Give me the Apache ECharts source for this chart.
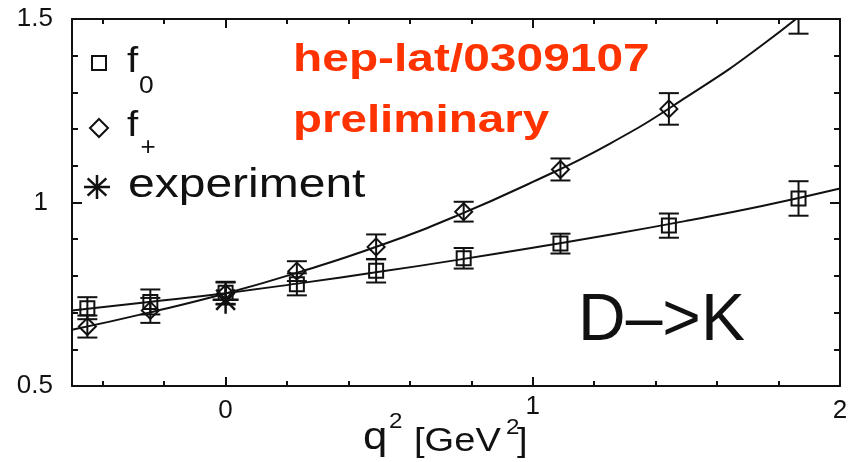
<!DOCTYPE html>
<html>
<head>
<meta charset="utf-8">
<script src="https://cdn.jsdelivr.net/npm/echarts@6/dist/echarts.min.js"></script>
<style>
  html, body { margin: 0; padding: 0; background: #ffffff; }
  #chart { width: 854px; height: 462px; }
</style>
</head>
<body>
<div id="chart"></div>
<script>
// Lattice form factors vs q^2 [GeV^2]
const q2Points    = [-0.45, -0.245, 0, 0.232, 0.49, 0.775, 1.09, 1.443, 1.865];
const f0Values    = [0.712, 0.729, 0.754, 0.777, 0.814, 0.848, 0.888, 0.937, 1.011];
const f0Errors    = [0.030, 0.034, 0.030, 0.030, 0.032, 0.028, 0.027, 0.033, 0.047];
const fPlusValues = [0.662, 0.706, 0.752, 0.813, 0.879, 0.975, 1.090, 1.255, 1.525];
const fPlusErrors = [0.030, 0.034, 0.030, 0.027, 0.034, 0.027, 0.030, 0.043, 0.065];

// Fitted curves sampled along q^2
const fitQ2    = [-0.5, -0.25, 0, 0.25, 0.5, 0.75, 1.0, 1.25, 1.5, 1.75, 2.0];
const fitF0    = [0.706, 0.729, 0.753, 0.781, 0.811, 0.843, 0.877, 0.912, 0.950, 0.991, 1.038];
const fitFPlus = [0.653, 0.700, 0.752, 0.813, 0.882, 0.963, 1.056, 1.160, 1.287, 1.431, 1.600];

// Experimental value at q^2 = 0
const expQ2     = [0];
const expValues = [0.735];

// Axis ticks
const xMajorTicks = [0, 1, 2];
const xMinorTicks = [-0.4, -0.2, 0.2, 0.4, 0.6, 0.8, 1.2, 1.4, 1.6, 1.8];
const yMajorTicks = [0.5, 1, 1.5];
const yMinorTicks = [0.6, 0.7, 0.8, 0.9, 1.1, 1.2, 1.3, 1.4];

const INK = '#111111';
const FONT = '"Liberation Sans", Arial, Helvetica, sans-serif';

const chart = echarts.init(document.getElementById('chart'), null, { renderer: 'canvas' });

function strokeStyle(w) {
  return { stroke: INK, lineWidth: w || 2, fill: 'none' };
}

function starShape(cx, cy, rx, ry) {
  const dx = rx * 0.72, dy = ry * 0.72;
  return [
    { type: 'line', shape: { x1: cx - rx, y1: cy, x2: cx + rx, y2: cy }, style: strokeStyle(2.5) },
    { type: 'line', shape: { x1: cx, y1: cy - ry, x2: cx, y2: cy + ry }, style: strokeStyle(2.5) },
    { type: 'line', shape: { x1: cx - dx, y1: cy - dy, x2: cx + dx, y2: cy + dy }, style: strokeStyle(2.5) },
    { type: 'line', shape: { x1: cx - dx, y1: cy + dy, x2: cx + dx, y2: cy - dy }, style: strokeStyle(2.5) }
  ];
}

function squareShape(cx, cy, h) {
  return { type: 'rect', shape: { x: cx - h, y: cy - h, width: 2 * h, height: 2 * h }, style: strokeStyle(2) };
}

function diamondShape(cx, cy, h) {
  return {
    type: 'polygon',
    shape: { points: [[cx, cy - h], [cx + h, cy], [cx, cy + h], [cx - h, cy]] },
    style: strokeStyle(2)
  };
}

// Point with symmetric error bar
function pointRenderer(kind) {
  return function (params, api) {
    const q = api.value(0), v = api.value(1), e = api.value(2);
    const c = api.coord([q, v]);
    const hi = api.coord([q, v + e]);
    const lo = api.coord([q, v - e]);
    const cap = 10;
    const children = [
      { type: 'line', shape: { x1: c[0], y1: hi[1], x2: c[0], y2: lo[1] }, style: strokeStyle(2) },
      { type: 'line', shape: { x1: c[0] - cap, y1: hi[1], x2: c[0] + cap, y2: hi[1] }, style: strokeStyle(2) },
      { type: 'line', shape: { x1: c[0] - cap, y1: lo[1], x2: c[0] + cap, y2: lo[1] }, style: strokeStyle(2) }
    ];
    children.push(kind === 'square' ? squareShape(c[0], c[1], 7) : diamondShape(c[0], c[1], 8.5));
    return { type: 'group', children: children };
  };
}

function starRenderer(params, api) {
  const c = api.coord([api.value(0), api.value(1)]);
  return { type: 'group', children: starShape(c[0], c[1], 13, 14) };
}

function tickAxis(kind, position, ticks, len, withLine, labels) {
  const isX = kind === 'x';
  const axis = {
    type: 'value',
    position: position,
    min: isX ? -0.5 : 0.5,
    max: isX ? 2 : 1.5,
    axisLine: { show: withLine, onZero: false, lineStyle: { color: INK, width: 2 } },
    axisTick: { show: true, inside: true, length: len, customValues: ticks, lineStyle: { color: INK, width: 2 } },
    axisLabel: { show: false },
    splitLine: { show: false }
  };
  if (labels) axis.axisLabel = labels;
  return axis;
}

const xLabels = {
  show: true,
  customValues: xMajorTicks,
  margin: 8,
  color: INK,
  fontFamily: FONT,
  fontSize: 26,
  formatter: function (v) { return v === 1 ? '{one|1}' : '{d|' + v + '}'; },
  rich: {
    d: { fontFamily: FONT, fontSize: 26, color: INK, padding: [4, 0, 0, 0] },
    one: { fontFamily: FONT, fontSize: 26, color: INK, padding: [0, 0, 0, 0] }
  }
};

const yLabels = {
  show: true,
  customValues: yMajorTicks,
  margin: 19,
  color: INK,
  fontFamily: FONT,
  fontSize: 26,
  formatter: function (v) { return v === 1 ? '{one|1}' : '{d|' + v + '}'; },
  rich: {
    d: { fontFamily: FONT, fontSize: 26, color: INK },
    one: { fontFamily: FONT, fontSize: 26, color: INK, padding: [0, 5, 0, 0] }
  }
};

// Free text helper: baseline-anchored, horizontally stretched
function label(text, x, baseline, size, opts) {
  opts = opts || {};
  return {
    type: 'text',
    x: x,
    y: baseline - 0.3465 * size,
    scaleX: opts.scaleX || 1,
    z: 10,
    style: {
      text: text,
      fill: opts.color || INK,
      font: (opts.bold ? 'bold ' : '') + size + 'px ' + FONT,
      textAlign: 'left',
      textVerticalAlign: 'middle'
    }
  };
}

const RED = '#ff3300';

const graphics = [
  // legend symbols
  squareShape(99, 63, 7),
  diamondShape(99, 128, 9),
  { type: 'group', children: starShape(97, 187, 13, 12) },
  // legend text
  label('f', 127, 74, 35, { scaleX: 1.15 }),
  label('0', 139, 95, 24, { scaleX: 1.1 }),
  label('f', 127, 138, 35, { scaleX: 1.15 }),
  label('+', 140.5, 156.5, 26, { scaleX: 1.0 }),
  label('experiment', 128, 200, 40, { scaleX: 1.2 }),
  // annotations
  label('hep-lat/0309107', 293, 73.3, 38, { bold: true, color: RED, scaleX: 1.26 }),
  label('preliminary', 293, 135, 38, { bold: true, color: RED, scaleX: 1.25 }),
  label('D\u2013>K', 578, 345, 66, { scaleX: 1.0 }),
  // x axis title: q^2 [GeV^2]
  label('q', 363, 452, 38, { scaleX: 1.15 }),
  label('2', 389, 430, 22, { scaleX: 1.1 }),
  label('[GeV', 414, 453, 34, { scaleX: 1.12 }),
  label('2', 506, 436, 22, { scaleX: 1.1 }),
  label(']', 517, 453, 34, { scaleX: 1.12 })
];

const option = {
  backgroundColor: '#ffffff',
  animation: false,
  grid: { left: 72, right: 14, top: 19, bottom: 76, containLabel: false },
  xAxis: [
    tickAxis('x', 'bottom', xMajorTicks, 9, true, xLabels),
    tickAxis('x', 'top', xMajorTicks, 9, true),
    tickAxis('x', 'bottom', xMinorTicks, 5, false),
    tickAxis('x', 'top', xMinorTicks, 5, false)
  ],
  yAxis: [
    tickAxis('y', 'left', yMajorTicks, 10, true, yLabels),
    tickAxis('y', 'right', yMajorTicks, 10, true),
    tickAxis('y', 'left', yMinorTicks, 6, false),
    tickAxis('y', 'right', yMinorTicks, 6, false)
  ],
  series: [
    {
      name: 'f0 fit', type: 'line', xAxisIndex: 0, yAxisIndex: 0,
      data: fitQ2.map(function (q, i) { return [q, fitF0[i]]; }),
      smooth: true, symbol: 'none', clip: true,
      lineStyle: { color: INK, width: 2 }
    },
    {
      name: 'f+ fit', type: 'line', xAxisIndex: 0, yAxisIndex: 0,
      data: fitQ2.map(function (q, i) { return [q, fitFPlus[i]]; }),
      smooth: true, symbol: 'none', clip: true,
      lineStyle: { color: INK, width: 2 }
    },
    {
      name: 'f0', type: 'custom', xAxisIndex: 0, yAxisIndex: 0, clip: true,
      renderItem: pointRenderer('square'),
      encode: { x: 0, y: 1 },
      data: q2Points.map(function (q, i) { return [q, f0Values[i], f0Errors[i]]; })
    },
    {
      name: 'f+', type: 'custom', xAxisIndex: 0, yAxisIndex: 0, clip: true,
      renderItem: pointRenderer('diamond'),
      encode: { x: 0, y: 1 },
      data: q2Points.map(function (q, i) { return [q, fPlusValues[i], fPlusErrors[i]]; })
    },
    {
      name: 'experiment', type: 'custom', xAxisIndex: 0, yAxisIndex: 0, clip: true,
      renderItem: starRenderer,
      encode: { x: 0, y: 1 },
      data: expQ2.map(function (q, i) { return [q, expValues[i]]; })
    }
  ],
  graphic: graphics
};

chart.setOption(option);
</script>
</body>
</html>
